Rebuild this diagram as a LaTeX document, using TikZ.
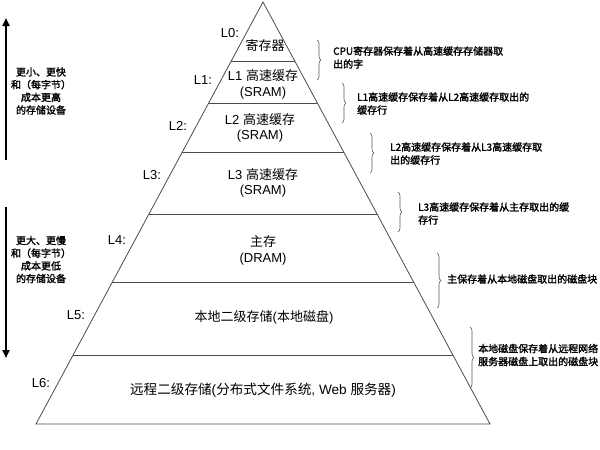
\documentclass[tikz,border=0pt]{standalone}
\usepackage{fontspec}
\setmainfont{Liberation Sans}
\newfontfamily\cjk{Noto Sans CJK SC}
\newfontfamily\cjkb{Noto Sans CJK SC}[FakeBold=1.8]
\usetikzlibrary{decorations.pathreplacing,arrows.meta,calc}
\tikzset{
  pyr/.style={draw=black!70, line width=0.8pt},
  lvl/.style={inner sep=0pt, align=center, font=\fontsize{13}{15.5}\selectfont},
  lab/.style={inner sep=0pt, font=\fontsize{13}{15}\selectfont},
  note/.style={inner sep=0pt, anchor=west, align=left, font=\cjkb\fontsize{10}{13}\selectfont},
  side/.style={inner sep=0pt, align=center, font=\cjkb\fontsize{10}{12.7}\selectfont},
  bracebox/.style={draw=black!65, line width=0.6pt, decorate, decoration={brace, amplitude=4pt}},
  bigarrow/.style={line width=2pt, -{Triangle[length=8pt,width=7pt]}}
}
\begin{document}
\begin{tikzpicture}[x=1pt,y=-1pt]
\useasboundingbox (0,0) rectangle (600,450);
% pyramid
\coordinate (A) at (263,2);
\coordinate (BL) at (36,424);
\coordinate (BR) at (490,424);
\draw[pyr] (BL) -- (A) -- (BR) -- cycle;
\foreach \f [count=\i] in {0.1398,0.2393,0.3555,0.5024,0.6635,0.8365}{
  \coordinate (l\i) at ($(A)!\f!(BL)$);
  \coordinate (r\i) at ($(A)!\f!(BR)$);
  \draw[pyr] (l\i) -- (r\i);
}
% level texts
\node[lvl] (t0) at (265,46) {{\cjk 寄存器}};
\node[lvl] (t1) at (263,84.5) {L1 {\cjk 高速缓存}\\(SRAM)};
\node[lvl] (t2) at (260,128) {L2 {\cjk 高速缓存}\\(SRAM)};
\node[lvl] (t3) at (263,183) {L3 {\cjk 高速缓存}\\(SRAM)};
\node[lvl] (t4) at (263,250.5) {{\cjk 主存}\\(DRAM)};
\node[lvl] (t5) at (264,317) {{\cjk 本地二级存储}({\cjk 本地磁盘})};
\node[lvl, font=\fontsize{13.6}{16}\selectfont] (t6) at (263,390) {{\cjk 远程二级存储}({\cjk 分布式文件系统}, Web {\cjk 服务器})};
% L labels
\node[lab] (L0) at (230,33) {L0:};
\node[lab] (L1) at (203,80) {L1:};
\node[lab] (L2) at (178,126) {L2:};
\node[lab] (L3) at (152,175) {L3:};
\node[lab] (L4) at (117,240) {L4:};
\node[lab] (L5) at (76,315) {L5:};
\node[lab] (L6) at (41,383) {L6:};
% braces
\coordinate (b1t) at (317,40);  \coordinate (b1b) at (317,80);
\coordinate (b2t) at (342,83);  \coordinate (b2b) at (342,123);
\coordinate (b3t) at (370,133); \coordinate (b3b) at (370,173);
\coordinate (b4t) at (398,192); \coordinate (b4b) at (398,232);
\coordinate (b5t) at (437,253); \coordinate (b5b) at (437,308);
\coordinate (b6t) at (470,327); \coordinate (b6b) at (470,388);
\foreach \i in {1,...,6}{ \draw[bracebox] (b\i t) -- (b\i b); }
% notes
\node[note] (a1) at (333,57.5) {CPU寄存器保存着从高速缓存存储器取\\出的字};
\node[note] (a2) at (357,103.5) {L1高速缓存保存着从L2高速缓存取出的\\缓存行};
\node[note] (a3) at (390,153.5) {L2高速缓存保存着从L3高速缓存取\\出的缓存行};
\node[note] (a4) at (418,213.5) {L3高速缓存保存着从主存取出的缓\\存行};
\node[note] (a5) at (447,279) {主保存着从本地磁盘取出的磁盘块};
\node[note] (a6) at (478,355) {本地磁盘保存着从远程网络\\服务器磁盘上取出的磁盘块};
% side arrows
\coordinate (u1) at (6,160); \coordinate (u2) at (6,18);
\coordinate (d1) at (6,207); \coordinate (d2) at (6,358);
\draw[bigarrow] (u1) -- (u2);
\draw[bigarrow] (d1) -- (d2);
\node[side] (s1) at (41,91) {更小、更快\\和（每字节）\\成本更高\\的存储设备};
\node[side] (s2) at (41,259.5) {更大、更慢\\和（每字节）\\成本更低\\的存储设备};
\end{tikzpicture}
\end{document}
